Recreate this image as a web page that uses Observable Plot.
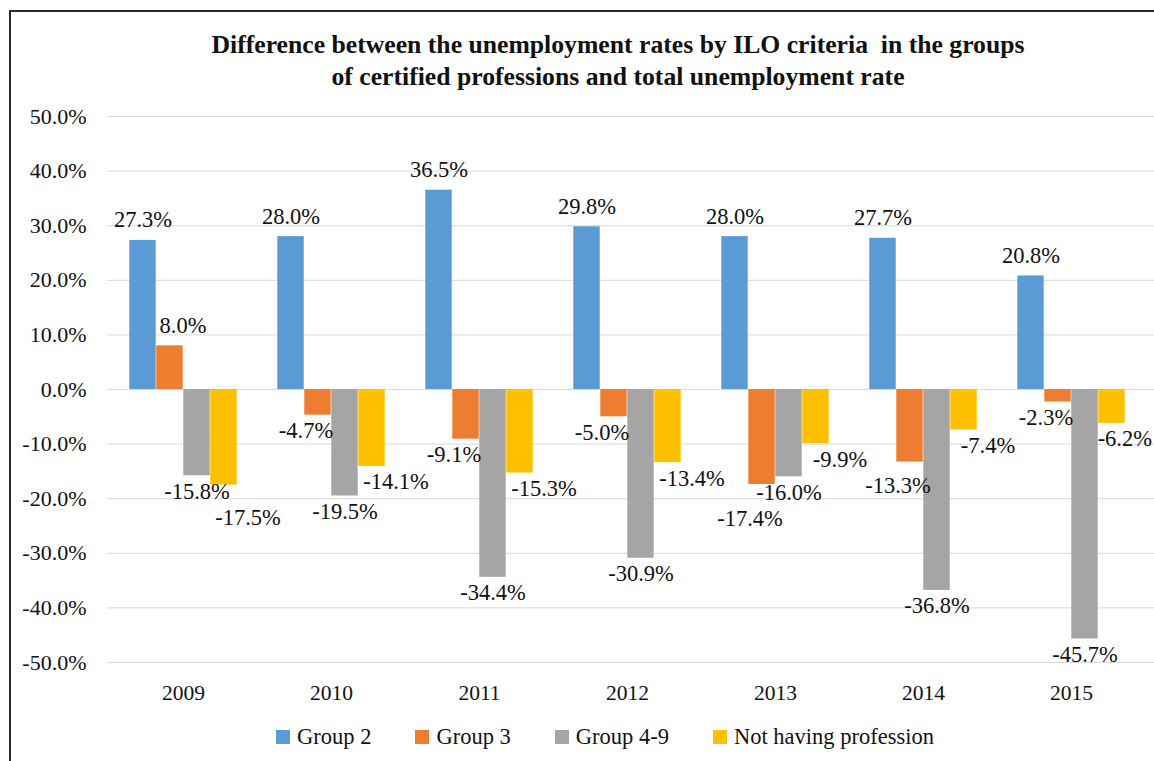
<!DOCTYPE html>
<html><head><meta charset="utf-8">
<script src="https://cdn.jsdelivr.net/npm/d3@7"></script>
<script src="https://cdn.jsdelivr.net/npm/@observablehq/plot@0.6"></script>
<style>
html,body{margin:0;padding:0;background:#fff;overflow:hidden;width:1154px;height:761px;}
#frame{position:absolute;left:9px;top:10px;width:2000px;height:2000px;border-left:2px solid #2b2b2b;border-top:2px solid #2b2b2b;pointer-events:none;}
#title{position:absolute;left:0;top:29px;width:1236px;text-align:center;font:bold 25.7px "Liberation Serif",serif;line-height:32px;color:#111;white-space:pre;}
#chart{position:absolute;left:0;top:100px;}
#legend{position:absolute;left:0;top:724px;width:1210px;display:flex;justify-content:center;gap:44px;font:22.5px "Liberation Serif",serif;line-height:26px;color:#111;}
.item{display:flex;align-items:center;gap:7px}
.sw{width:14px;height:14px;display:inline-block}
</style>
</head>
<body>
<div id="frame"></div>
<div id="title"></div>
<div id="chart"></div>
<div id="legend"></div>
<script>
const titleText = "Difference between the unemployment rates by ILO criteria  in the groups\nof certified professions and total unemployment rate";
const years = ["2009","2010","2011","2012","2013","2014","2015"];
const seriesNames = ["Group 2","Group 3","Group 4-9","Not having profession"];
const group2 = [27.3, 28.0, 36.5, 29.8, 28.0, 27.7, 20.8];
const group3 = [8.0, -4.7, -9.1, -5.0, -17.4, -13.3, -2.3];
const group49 = [-15.8, -19.5, -34.4, -30.9, -16.0, -36.8, -45.7];
const notHaving = [-17.5, -14.1, -15.3, -13.4, -9.9, -7.4, -6.2];
const yTicks = [-50, -40, -30, -20, -10, 0, 10, 20, 30, 40, 50];
const colors = ["#5B9BD5", "#ED7D31", "#A5A5A5", "#FFC000"];

document.getElementById("title").textContent = titleText;

const seriesValues = [group2, group3, group49, notHaving];
const rows = [];
seriesValues.forEach((vals, k) => vals.forEach((v, i) => rows.push({year: years[i], series: seriesNames[k], k, value: v})));

const W = 1154, H = 610;
const xRange = [107, 1147];
const step = (xRange[1] - xRange[0]) / years.length;
const groupW = step * 0.727;
const barW = groupW / 4;
const pad = (step - groupW) / 2;
const labelDxPos = [0, 13, 0, 0];
const labelDxNeg = [0, -12, 0, 24];
const fmt = v => v.toFixed(1) + "%";
const font = '"Liberation Serif", serif';

const marks = [
  Plot.gridY(yTicks, {stroke: "#d9d9d9", strokeOpacity: 1, strokeWidth: 1})
];
seriesNames.forEach((s, k) => {
  marks.push(Plot.barY(rows.filter(d => d.k === k), {
    x: "year", y: "value", fill: colors[k],
    insetLeft: pad + k * barW, insetRight: step - pad - (k + 1) * barW
  }));
});
const labelOrder = [];
seriesNames.forEach((s, k) => {
  const base = -step / 2 + pad + (k + 0.5) * barW;
  const pos = rows.filter(d => d.k === k && d.value >= 0);
  const neg = rows.filter(d => d.k === k && d.value < 0);
  marks.push(Plot.text(pos, {x: "year", y: "value", text: d => fmt(d.value), dx: base + labelDxPos[k], dy: -13, lineAnchor: "bottom", fontSize: 22.5, fontFamily: font, fill: "#111"}));
  marks.push(Plot.text(neg, {x: "year", y: "value", text: d => fmt(d.value), dx: base + labelDxNeg[k], dy: 7, lineAnchor: "top", fontSize: 22.5, fontFamily: font, fill: "#111"}));
  labelOrder.push(...pos, ...neg);
});
marks.push(Plot.axisY(yTicks, {tickSize: 0, tickPadding: 21, tickFormat: fmt, fontSize: 22, fontFamily: font, fill: "#111", label: null}));
marks.push(Plot.axisX({tickSize: 0, tickPadding: 22, fontSize: 21.5, fontFamily: font, fill: "#111", label: null}));

const svg = Plot.plot({
  width: W, height: H,
  marginLeft: 107, marginRight: 0, marginTop: 16, marginBottom: 48,
  style: {fontFamily: font, fontSize: "21px", background: "transparent", overflow: "visible", color: "#111"},
  x: {type: "band", domain: years, range: xRange, padding: 0, axis: null, label: null},
  y: {domain: [-50, 50], axis: null, label: null},
  marks
});
document.getElementById("chart").appendChild(svg);

// simple label collision avoidance: labels nearer zero keep their place; keep labels inside the window
const texts = Array.from(svg.querySelectorAll('g[aria-label="text"] text'));
const items = texts.map((t, i) => ({t, d: labelOrder[i], r: t.getBoundingClientRect()}));
items.sort((a, b) => Math.abs(a.d.value) - Math.abs(b.d.value));
const placed = [];
for (const it of items) {
  let top = it.r.top, bottom = it.r.bottom, left = it.r.left, right = it.r.right;
  let dx = 0;
  if (right > W - 2) { dx = (W - 2) - right; left += dx; right += dx; }
  let dy = 0, moved = true, guard = 0;
  while (moved && guard++ < 20) {
    moved = false;
    for (const p of placed) {
      if (left < p.right && right > p.left && top + dy < p.bottom && bottom + dy > p.top) {
        if (it.d.value < 0) dy += p.bottom - (top + dy) + 1;
        else dy -= (bottom + dy) - p.top + 1;
        moved = true;
      }
    }
  }
  if (dy || dx) {
    const tr = it.t.getAttribute("transform") || "";
    it.t.setAttribute("transform", tr + ` translate(${dx},${dy})`);
  }
  placed.push({left, right, top: top + dy, bottom: bottom + dy});
}

const legend = document.getElementById("legend");
seriesNames.forEach((s, k) => {
  const item = document.createElement("div");
  item.className = "item";
  const sw = document.createElement("span");
  sw.className = "sw";
  sw.style.background = colors[k];
  const lab = document.createElement("span");
  lab.textContent = s;
  item.appendChild(sw); item.appendChild(lab);
  legend.appendChild(item);
});
</script>
</body></html>
